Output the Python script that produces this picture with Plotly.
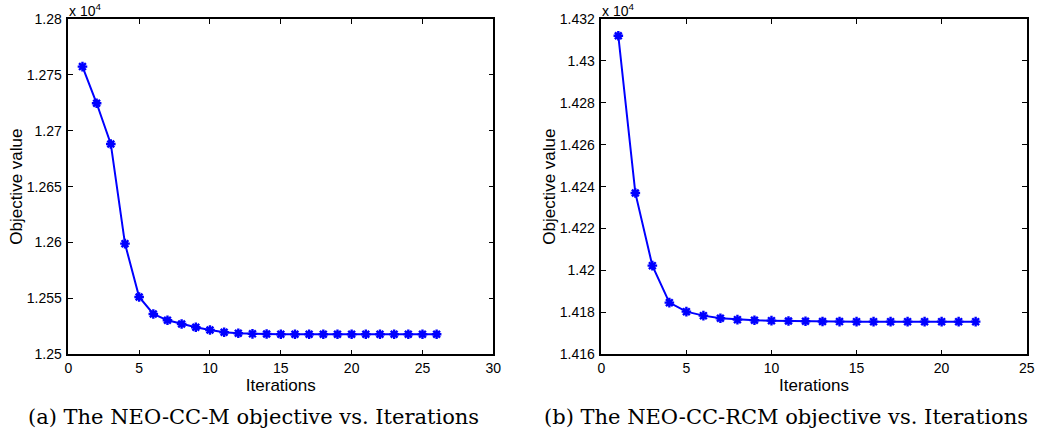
import plotly.graph_objects as go

iters_a = list(range(1, 27))
obj_a = [1.27574, 1.27246, 1.26882, 1.25990, 1.25513, 1.25361, 1.25304, 1.25271,
         1.25242, 1.25218, 1.25197, 1.25188, 1.25183, 1.25181, 1.25180, 1.25180,
         1.25180, 1.25180, 1.25180, 1.25180, 1.25180, 1.25180, 1.25180, 1.25180,
         1.25180, 1.25180]
iters_b = list(range(1, 23))
obj_b = [1.43120, 1.42370, 1.42023, 1.418465, 1.418036, 1.417845, 1.417718, 1.417654,
         1.417622, 1.417606, 1.417590, 1.417574, 1.417565, 1.417560, 1.417558, 1.417558,
         1.417558, 1.417558, 1.417558, 1.417558, 1.417558, 1.417558]

ticks_a_x = [0, 5, 10, 15, 20, 25, 30]
ticks_a_y = [1.25, 1.255, 1.26, 1.265, 1.27, 1.275, 1.28]
ticks_b_x = [0, 5, 10, 15, 20, 25]
ticks_b_y = [1.416, 1.418, 1.42, 1.422, 1.424, 1.426, 1.428, 1.43, 1.432]

captions = ["(a) The NEO-CC-M objective vs. Iterations",
            "(b) The NEO-CC-RCM objective vs. Iterations"]

W, H = 1039, 439
def fx(px):
    return px / W
def fy(py):
    return 1 - py / H

BLUE = "#0000FF"

fig = go.Figure()
for i, (xs, ys) in enumerate([(iters_a, obj_a), (iters_b, obj_b)]):
    fig.add_trace(go.Scatter(
        x=xs, y=ys, mode="lines+markers",
        xaxis="x" if i == 0 else "x2", yaxis="y" if i == 0 else "y2",
        line=dict(color=BLUE, width=2),
        marker=dict(symbol="asterisk-open", size=8, color=BLUE,
                    line=dict(color=BLUE, width=2.4)),
        showlegend=False, hoverinfo="x+y"))

ydom = [fy(354.3), fy(19)]
tickfont = dict(family="Liberation Sans, Arial, sans-serif", size=14, color="black")
titlefont = dict(family="Liberation Sans, Arial, sans-serif", size=17, color="black")

def xax(dom, rng, tv, anchor):
    return dict(domain=dom, range=rng, tickvals=tv, ticktext=[str(v) for v in tv],
                ticks="inside", ticklen=5, tickwidth=1, tickcolor="black",
                showline=True, linecolor="black", linewidth=1.5, mirror="ticks",
                showgrid=False, zeroline=False, tickfont=tickfont, anchor=anchor,
                automargin=False,
                title=dict(text="Iterations", font=titlefont, standoff=0))

def yax(rng, tv, anchor):
    return dict(domain=ydom, range=rng, tickvals=tv, ticktext=[f"{v:g}" for v in tv],
                ticks="inside", ticklen=5, tickwidth=1, tickcolor="black",
                showline=True, linecolor="black", linewidth=1.5, mirror="ticks",
                showgrid=False, zeroline=False, tickfont=tickfont, anchor=anchor,
                ticklabelstandoff=2, automargin=False,
                title=dict(text="Objective value", font=titlefont, standoff=0))

fig.update_layout(
    width=W, height=H, margin=dict(l=0, r=0, t=0, b=0),
    paper_bgcolor="white", plot_bgcolor="white",
    xaxis=xax([fx(68.3), fx(493.3)], [0, 30], ticks_a_x, "y"),
    yaxis=yax([1.25, 1.28], ticks_a_y, "x"),
    xaxis2=xax([fx(601.3), fx(1026.7)], [0, 25], ticks_b_x, "y2"),
    yaxis2=yax([1.416, 1.432], ticks_b_y, "x2"),
)

for x0 in [68.3, 601.3]:
    fig.add_annotation(x=fx(x0), y=fy(0), xref="paper", yref="paper",
                       xanchor="left", yanchor="top", showarrow=False,
                       text="x 10<sup>4</sup>", borderpad=0,
                       font=dict(family="Liberation Sans, Arial, sans-serif", size=14, color="black"))

for cx, cap in zip([253.5, 786], captions):
    fig.add_annotation(x=fx(cx), y=fy(417), xref="paper", yref="paper",
                       xanchor="center", yanchor="middle", showarrow=False, text=cap,
                       font=dict(family="DejaVu Serif, serif", size=21, color="black"))

fig.write_html("out.html", config={"displayModeBar": False},
               post_script="document.body.style.margin='0px';document.body.style.overflow='hidden';")
